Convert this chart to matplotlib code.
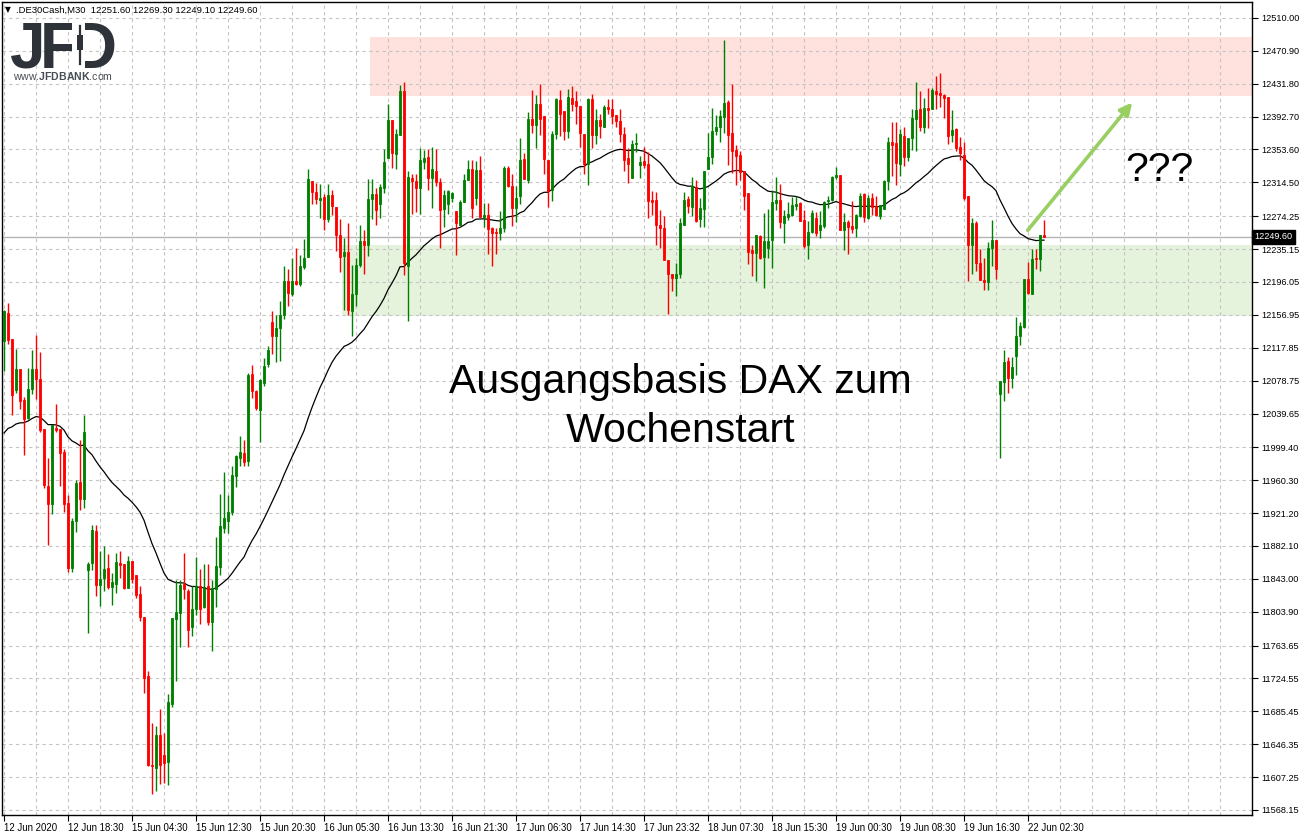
import numpy as np
import pandas as pd
import matplotlib
matplotlib.use('Agg')
import matplotlib.pyplot as plt
from matplotlib.transforms import blended_transform_factory
from matplotlib.patches import Rectangle

# .DE30Cash M30 bars (open / high / low / close)
opens = [
    12125.4, 12159.3, 12128.5, 12067.3, 12093.0, 12055.4, 12034.5, 12068.5, 12093.0, 12081.1,
    12020.7, 11953.5, 11931.8, 12022.7, 12020.7, 11993.4, 11933.1, 11856.0, 11912.1, 11957.9,
    11938.1, 11854.0, 11861.9, 11899.4, 11836.2, 11844.1, 11856.0, 11833.1, 11837.4, 11861.9,
    11860.7, 11832.3, 11863.9, 11847.3, 11825.6, 11797.1, 11727.6, 11622.1, 11618.2, 11657.7,
    11634.0, 11624.9, 11694.0, 11795.1, 11802.6, 11837.4, 11829.1, 11785.3, 11806.6, 11835.0,
    11809.0, 11834.6, 11791.2, 11830.7, 11856.8, 11903.8, 11911.3, 11923.1, 11965.8, 11986.7,
    11992.3, 11983.0, 12086.2, 12066.4, 12044.0, 12075.5, 12099.0, 12149.0, 12132.4, 12141.5,
    12157.0, 12196.8, 12182.0, 12196.8, 12193.6, 12213.4, 12225.6, 12316.5, 12303.4, 12294.0,
    12297.0, 12270.7, 12299.5, 12285.7, 12252.0, 12227.0, 12231.5, 12162.0, 12181.8, 12215.7,
    12245.0, 12239.5, 12294.8, 12300.5, 12288.4, 12307.4, 12342.9, 12388.4, 12348.8, 12370.6,
    12422.7, 12214.5, 12320.0, 12316.0, 12307.4, 12338.2, 12344.9, 12319.2, 12328.0, 12314.5,
    12282.5, 12288.4, 12296.3, 12280.5, 12264.0, 12290.8, 12317.3, 12330.0, 12295.5, 12329.0,
    12273.8, 12275.8, 12260.8, 12255.2, 12254.8, 12260.0, 12332.0, 12310.5, 12283.7, 12298.7,
    12342.0, 12317.3, 12390.3, 12382.4, 12408.0, 12393.0, 12341.0, 12305.4, 12372.5, 12412.0,
    12399.0, 12375.3, 12415.2, 12410.9, 12405.0, 12372.5, 12335.8, 12414.0, 12370.6, 12388.4,
    12380.4, 12404.0, 12402.0, 12394.3, 12387.2, 12372.5, 12342.9, 12319.6, 12360.3, 12335.4,
    12339.4, 12336.2, 12293.9, 12293.5, 12264.3, 12260.4, 12221.7, 12205.1, 12201.1, 12205.9,
    12264.3, 12294.7, 12285.3, 12308.5, 12271.0, 12283.3, 12330.3, 12344.5, 12375.7, 12380.1,
    12392.7, 12409.7, 12373.0, 12352.8, 12347.3, 12327.5, 12301.8, 12233.5, 12230.8, 12250.5,
    12225.6, 12236.7, 12245.4, 12290.0, 12293.2, 12266.3, 12273.4, 12276.2, 12286.9, 12290.0,
    12269.5, 12239.8, 12255.6, 12272.2, 12258.4, 12262.4, 12292.0, 12294.0, 12320.8, 12322.8,
    12258.4, 12267.1, 12262.4, 12260.4, 12275.0, 12300.7, 12272.2, 12295.9, 12286.1, 12274.2,
    12283.3, 12315.7, 12363.1, 12361.1, 12336.2, 12370.2, 12344.5, 12367.0, 12389.9, 12401.4,
    12380.8, 12403.4, 12401.8, 12423.5, 12420.7, 12418.4, 12415.6, 12371.0, 12377.7, 12357.1,
    12346.5, 12298.7, 12239.8, 12266.3, 12218.9, 12198.3, 12196.0, 12235.9, 12245.4, 12062.5,
    12077.5, 12102.4, 12081.5, 12108.3, 12132.0, 12142.7, 12200.0, 12181.3, 12224.5, 12222.9,
    12251.6,
]
highs = [
    12163.0, 12171.2, 12128.5, 12116.7, 12093.0, 12059.4, 12094.1, 12115.5, 12133.2, 12112.7,
    12020.7, 11986.3, 12025.8, 12051.5, 12020.7, 11997.4, 11942.8, 11915.2, 11960.6, 12008.1,
    12037.7, 11863.1, 11906.5, 11906.5, 11875.7, 11881.6, 11872.5, 11850.0, 11873.7, 11875.7,
    11860.7, 11869.7, 11863.9, 11847.3, 11834.6, 11797.1, 11733.5, 11671.5, 11668.0, 11688.1,
    11659.7, 11705.9, 11796.7, 11841.4, 11842.2, 11873.4, 11831.5, 11834.3, 11869.4, 11855.2,
    11861.1, 11860.7, 11842.2, 11893.1, 11944.1, 11969.7, 11942.9, 11976.8, 11990.3, 12013.2,
    12008.0, 12088.0, 12097.0, 12068.0, 12081.0, 12106.0, 12120.0, 12161.0, 12157.0, 12173.0,
    12214.6, 12212.0, 12225.0, 12236.0, 12228.0, 12247.0, 12330.0, 12316.5, 12314.0, 12312.0,
    12301.0, 12312.0, 12306.0, 12285.7, 12270.7, 12248.0, 12266.0, 12216.0, 12224.4, 12264.0,
    12258.0, 12318.0, 12318.0, 12308.0, 12312.0, 12354.0, 12408.0, 12388.4, 12378.5, 12430.6,
    12433.8, 12328.0, 12325.0, 12324.0, 12355.6, 12352.8, 12353.6, 12356.8, 12354.0, 12320.0,
    12305.4, 12305.4, 12303.4, 12281.0, 12293.6, 12324.0, 12341.7, 12341.0, 12340.0, 12345.7,
    12289.6, 12289.6, 12261.2, 12260.0, 12280.0, 12334.2, 12334.2, 12325.0, 12310.5, 12367.4,
    12350.0, 12398.2, 12424.7, 12418.0, 12431.8, 12393.0, 12341.0, 12375.3, 12415.2, 12424.7,
    12399.0, 12425.0, 12429.0, 12423.0, 12405.0, 12372.5, 12414.8, 12420.0, 12402.0, 12396.3,
    12406.0, 12414.0, 12413.2, 12394.3, 12402.0, 12380.4, 12354.8, 12365.0, 12373.0, 12345.3,
    12357.1, 12350.4, 12303.8, 12303.0, 12282.1, 12274.2, 12221.7, 12205.9, 12218.9, 12272.2,
    12303.0, 12297.9, 12320.8, 12317.6, 12295.9, 12327.5, 12373.7, 12402.6, 12394.7, 12400.6,
    12484.3, 12412.4, 12431.0, 12359.1, 12352.4, 12328.3, 12301.8, 12240.6, 12251.7, 12252.5,
    12278.2, 12283.3, 12305.0, 12320.4, 12312.9, 12282.1, 12290.8, 12296.7, 12298.7, 12290.8,
    12281.3, 12268.3, 12282.1, 12279.0, 12280.1, 12292.8, 12297.9, 12321.6, 12332.3, 12323.6,
    12278.2, 12270.0, 12292.8, 12277.0, 12301.9, 12301.9, 12299.9, 12301.9, 12297.9, 12287.2,
    12317.6, 12369.0, 12386.8, 12386.8, 12377.7, 12380.8, 12367.0, 12401.8, 12433.4, 12423.5,
    12414.4, 12426.3, 12427.0, 12441.3, 12444.0, 12419.6, 12415.6, 12401.0, 12378.9, 12369.0,
    12363.1, 12298.7, 12272.2, 12268.3, 12235.5, 12224.8, 12243.4, 12269.5, 12245.4, 12078.3,
    12115.1, 12107.1, 12107.1, 12154.6, 12147.9, 12200.0, 12219.7, 12235.5, 12235.5, 12252.1,
    12269.3,
]
lows = [
    12089.8, 12122.6, 12037.7, 12064.5, 12044.8, 11990.3, 12033.0, 12063.3, 12057.4, 12018.0,
    11950.8, 11882.8, 11920.0, 12017.1, 11953.5, 11922.3, 11851.2, 11851.2, 11898.6, 11925.1,
    11927.1, 11779.0, 11854.0, 11822.4, 11811.3, 11828.3, 11831.5, 11812.5, 11826.3, 11844.1,
    11831.5, 11832.3, 11838.6, 11820.4, 11793.2, 11707.1, 11620.2, 11587.4, 11591.3, 11599.2,
    11600.4, 11597.6, 11690.1, 11721.6, 11762.4, 11818.8, 11762.0, 11775.4, 11799.9, 11788.8,
    11807.8, 11788.0, 11757.2, 11809.0, 11848.1, 11897.8, 11897.8, 11919.2, 11952.8, 11977.6,
    11977.6, 11977.0, 12058.5, 12044.0, 12006.0, 12072.4, 12095.0, 12110.0, 12101.2, 12102.0,
    12152.0, 12168.0, 12179.0, 12193.0, 12191.0, 12212.0, 12225.6, 12289.0, 12288.8, 12272.0,
    12258.0, 12267.0, 12276.0, 12233.0, 12207.5, 12163.2, 12157.0, 12131.6, 12167.0, 12213.4,
    12205.0, 12227.0, 12270.7, 12264.0, 12272.0, 12301.5, 12342.9, 12332.0, 12330.0, 12370.6,
    12204.7, 12149.4, 12276.6, 12279.7, 12276.6, 12330.0, 12305.4, 12283.7, 12310.0, 12237.0,
    12262.0, 12276.6, 12291.6, 12227.6, 12264.0, 12290.8, 12317.3, 12272.0, 12288.0, 12273.8,
    12262.0, 12229.6, 12215.3, 12229.6, 12246.2, 12255.2, 12309.4, 12262.7, 12267.0, 12288.4,
    12318.4, 12314.0, 12373.7, 12355.6, 12371.4, 12325.0, 12285.6, 12292.4, 12366.6, 12369.8,
    12364.7, 12367.4, 12399.4, 12384.4, 12356.8, 12325.0, 12311.3, 12355.6, 12359.9, 12367.4,
    12380.4, 12395.5, 12384.4, 12380.4, 12362.7, 12328.0, 12314.0, 12319.6, 12351.2, 12319.6,
    12331.5, 12272.2, 12276.2, 12240.6, 12236.7, 12221.7, 12157.7, 12185.3, 12179.4, 12200.3,
    12264.3, 12278.1, 12274.2, 12267.1, 12261.5, 12261.5, 12330.3, 12336.2, 12371.0, 12363.0,
    12373.0, 12335.4, 12325.5, 12311.7, 12317.6, 12282.1, 12216.9, 12203.1, 12197.2, 12222.9,
    12188.5, 12224.0, 12213.0, 12282.1, 12260.4, 12242.6, 12269.5, 12274.2, 12282.1, 12268.3,
    12235.9, 12223.6, 12254.5, 12250.5, 12248.5, 12260.4, 12284.1, 12292.8, 12318.8, 12258.4,
    12233.5, 12229.6, 12254.5, 12249.7, 12273.0, 12267.1, 12271.1, 12276.2, 12274.2, 12271.4,
    12283.3, 12305.8, 12321.6, 12311.7, 12321.6, 12333.4, 12339.4, 12353.2, 12352.0, 12375.7,
    12372.9, 12379.7, 12401.8, 12401.8, 12404.5, 12391.0, 12360.0, 12363.1, 12352.0, 12341.3,
    12293.9, 12197.6, 12205.1, 12209.0, 12197.9, 12186.5, 12186.5, 12215.0, 12199.1, 11986.7,
    12054.6, 12063.7, 12070.4, 12085.4, 12121.0, 12140.8, 12181.3, 12181.3, 12211.0, 12209.1,
    12249.1,
]
closes = [
    12162.1, 12126.5, 12062.1, 12093.0, 12054.2, 12033.0, 12069.3, 12092.2, 12081.1, 12019.9,
    11954.7, 11931.8, 12025.8, 12019.9, 11992.2, 11931.8, 11856.0, 11912.1, 11956.7, 11938.1,
    12017.1, 11860.7, 11900.6, 11836.2, 11842.9, 11854.8, 11833.4, 11839.4, 11862.7, 11859.9,
    11832.3, 11863.9, 11842.5, 11823.6, 11797.1, 11724.8, 11621.4, 11621.0, 11657.7, 11621.4,
    11624.1, 11696.4, 11796.7, 11803.8, 11836.2, 11831.5, 11782.1, 11806.6, 11834.6, 11807.0,
    11833.5, 11791.2, 11832.3, 11858.3, 11905.4, 11915.2, 11923.1, 11966.6, 11988.7, 11993.4,
    11981.6, 12085.0, 12066.4, 12046.0, 12080.0, 12096.0, 12114.6, 12132.4, 12141.5, 12157.0,
    12196.8, 12183.0, 12196.8, 12194.0, 12214.6, 12224.4, 12318.0, 12303.4, 12294.8, 12296.0,
    12270.7, 12299.5, 12286.0, 12252.0, 12225.6, 12232.3, 12163.2, 12181.8, 12215.7, 12245.0,
    12239.5, 12294.8, 12300.5, 12282.0, 12309.4, 12338.2, 12388.4, 12350.0, 12372.5, 12422.7,
    12218.5, 12321.2, 12316.0, 12307.4, 12341.0, 12343.7, 12319.2, 12330.0, 12314.5, 12281.7,
    12299.5, 12304.2, 12301.5, 12266.7, 12291.6, 12317.3, 12330.0, 12283.7, 12329.0, 12273.8,
    12275.8, 12258.8, 12254.8, 12254.8, 12260.0, 12332.0, 12310.1, 12284.5, 12295.5, 12341.0,
    12318.4, 12389.5, 12382.4, 12408.0, 12389.5, 12342.0, 12304.2, 12372.5, 12414.0, 12396.3,
    12375.3, 12416.0, 12408.0, 12405.0, 12373.3, 12335.8, 12414.0, 12370.6, 12388.4, 12381.6,
    12404.0, 12401.4, 12393.5, 12387.2, 12372.5, 12341.0, 12336.2, 12359.9, 12361.0, 12338.6,
    12334.6, 12292.8, 12291.2, 12264.3, 12260.4, 12221.7, 12205.9, 12200.3, 12205.9, 12266.3,
    12293.9, 12286.8, 12309.7, 12269.0, 12284.1, 12327.5, 12344.5, 12375.7, 12380.1, 12393.5,
    12408.5, 12371.0, 12352.4, 12346.0, 12326.7, 12298.7, 12231.5, 12230.0, 12251.7, 12224.8,
    12244.6, 12244.6, 12290.8, 12293.2, 12267.5, 12274.2, 12277.0, 12288.0, 12288.8, 12269.1,
    12238.7, 12255.6, 12278.2, 12254.5, 12264.3, 12290.8, 12294.0, 12320.8, 12323.6, 12258.4,
    12267.5, 12261.6, 12259.6, 12275.4, 12297.9, 12273.4, 12295.9, 12285.3, 12276.2, 12287.2,
    12315.7, 12363.1, 12359.1, 12337.4, 12371.8, 12344.5, 12367.0, 12391.5, 12400.6, 12380.8,
    12402.6, 12400.2, 12424.3, 12419.6, 12418.4, 12415.2, 12369.8, 12376.9, 12355.2, 12349.2,
    12295.9, 12239.8, 12266.3, 12218.1, 12197.9, 12196.0, 12236.7, 12245.4, 12211.8, 12078.3,
    12101.2, 12082.3, 12095.3, 12132.0, 12143.5, 12200.0, 12183.4, 12223.7, 12222.9, 12252.1,
    12249.6,
]

time_labels = ['12 Jun 2020', '12 Jun 18:30', '15 Jun 04:30', '15 Jun 12:30', '15 Jun 20:30',
               '16 Jun 05:30', '16 Jun 13:30', '16 Jun 21:30', '17 Jun 06:30', '17 Jun 14:30',
               '17 Jun 23:32', '18 Jun 07:30', '18 Jun 15:30', '19 Jun 00:30', '19 Jun 08:30',
               '19 Jun 16:30', '22 Jun 02:30']
price_ticks = [12510.00, 12470.90, 12431.80, 12392.70, 12353.60, 12314.50, 12274.25,
               12235.15, 12196.05, 12156.95, 12117.85, 12078.75, 12039.65, 11999.40,
               11960.30, 11921.20, 11882.10, 11843.00, 11803.90, 11763.65, 11724.55,
               11685.45, 11646.35, 11607.25, 11568.15]

header = '.DE30Cash,M30  12251.60 12269.30 12249.10 12249.60'
last_price = 12249.60
ma_seed = 12009.0      # average at the first visible bar
ma_span = 40
resistance_zone = (12417.0, 12487.0)
support_zone = (12155.5, 12240.0)

plt.rcParams['font.family'] = ['Liberation Sans', 'DejaVu Sans']
plt.rcParams['mathtext.fontset'] = 'custom'
plt.rcParams['mathtext.rm'] = 'Liberation Sans'
plt.rcParams['mathtext.bf'] = 'Liberation Sans:bold'

o = np.array(opens)
h = np.array(highs)
l = np.array(lows)
c = np.array(closes)
x = np.arange(len(c))
up = c >= o
ma = pd.Series([ma_seed] + closes).ewm(span=ma_span, adjust=False).mean().to_numpy()[1:]

W, H = 1304, 835
fig = plt.figure(figsize=(W / 100, H / 100), dpi=100)
ax = fig.add_axes([2 / W, 20 / H, 1250 / W, 813 / H])
ax.set_xlim(-0.5, 312)
ax.set_ylim(11562.2, 12529.0)

# zones
ax.axhspan(*resistance_zone, xmin=(91.5 + 0.5) / 312.5, xmax=1, color='#ffe1de', lw=0, zorder=0)
ax.axhspan(*support_zone, xmin=(84.5 + 0.5) / 312.5, xmax=1, color='#e5f2dc', lw=0, zorder=0)

# grid and ticks
ax.set_xticks(np.arange(0, 17 * 16, 16))
ax.set_xticklabels(time_labels, ha='left', fontsize=6.9)
ax.set_xticks(np.arange(0, 312, 8), minor=True)
ax.set_yticks(price_ticks)
ax.set_yticklabels(['%.2f' % v for v in price_ticks], fontsize=6.6)
ax.yaxis.tick_right()
ax.tick_params(axis='y', length=4, pad=3, width=0.8, colors='black')
ax.tick_params(axis='x', which='major', length=4, pad=2, width=0.8)
ax.tick_params(axis='x', which='minor', length=0)
ax.grid(True, which='both', color='#c4c4c4', linestyle=(0, (3, 3)), linewidth=0.8, zorder=0.5)
ax.set_axisbelow(True)
for s in ax.spines.values():
    s.set_color('black')
    s.set_linewidth(1.0)

# last price line
ax.axhline(last_price, color='#b4b4b4', lw=1.0, zorder=1)

# moving average
ax.plot(x, ma, color='black', lw=0.9, zorder=2)

# candles
colors = np.where(up, '#008000', '#ff0000')
ax.vlines(x, l, h, colors=colors, lw=1.0, zorder=3)
ax.bar(x, np.abs(c - o), bottom=np.minimum(o, c), width=0.72, color=colors,
       edgecolor=colors, linewidth=0.6, zorder=4)

# price tag on the axis
tr = blended_transform_factory(ax.transAxes, ax.transData)
ax.text(1.002, last_price, '%.2f' % last_price, transform=tr, fontsize=6.6, color='white',
        va='center', ha='left', bbox=dict(facecolor='black', edgecolor='black', pad=1.6), zorder=5)

# header
fig.text(5 / W, 1 - 10 / H, '\u25BC', fontsize=5.5, va='center', ha='left', family='DejaVu Sans')
fig.text(16 / W, 1 - 10 / H, header, fontsize=6.8, va='center', ha='left')

# logo: J F and a D whose stem is a small candle
logo = '#2d3339'
for ch, px in (('J', 10), ('F', 40), ('D', 71)):
    fig.text(px / W, 1 - 68 / H, ch, fontsize=46, fontweight='bold', color=logo,
             va='baseline', ha='left')
fig.patches.append(Rectangle((72 / W, 1 - 70 / H), 13 / W, 50 / H, transform=fig.transFigure,
                             facecolor='white', edgecolor='none', zorder=5))
fig.lines.append(plt.Line2D([80 / W, 80 / W], [1 - 26 / H, 1 - 64 / H], transform=fig.transFigure,
                            color=logo, lw=1.6, zorder=6))
fig.patches.append(Rectangle((77 / W, 1 - 50 / H), 6 / W, 15 / H, transform=fig.transFigure,
                             facecolor=logo, edgecolor='none', zorder=6))
fig.text(13 / W, 1 - 80 / H, r'www.$\mathbf{JFDBANK}$.com', fontsize=7.6, color='#474d54',
         va='baseline', ha='left')

# annotation
ax.text(169.1, 12064, 'Ausgangsbasis DAX zum', fontsize=29.5, ha='center', va='baseline', zorder=6)
ax.text(169.1, 12006, 'Wochenstart', fontsize=29.5, ha='center', va='baseline', zorder=6)
ax.text(288.9, 12316, '???', fontsize=29.5, ha='center', va='baseline', zorder=6)
ax.annotate('', xy=(282.5, 12412), xytext=(255.5, 12255),
            arrowprops=dict(arrowstyle='-|>', color='#98cf60', lw=2.6, mutation_scale=18),
            zorder=6)

fig.savefig('out.png', dpi=100)
